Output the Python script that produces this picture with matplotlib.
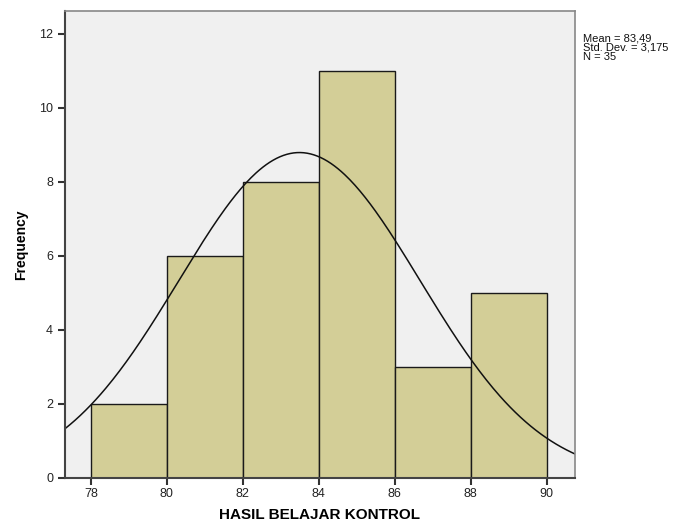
import numpy as np
import matplotlib.pyplot as plt

plt.rcParams['font.family'] = ['Liberation Sans', 'DejaVu Sans']

bin_edges = [78, 80, 82, 84, 86, 88, 90]
freq = [2, 6, 8, 11, 3, 5]
mean = 83.49
sd = 3.175
n = 35

fig = plt.figure(figsize=(6.89, 5.26), dpi=100)
ax = fig.add_axes([0.0943, 0.0913, 0.7402, 0.8877])
ax.set_facecolor('#f0f0f0')

ax.bar(bin_edges[:-1], freq, width=2, align='edge', color='#d3ce97',
       edgecolor='#1a1a1a', linewidth=1.0)

xs = np.linspace(77.32, 90.74, 300)
ys = n * 2 / (sd * np.sqrt(2 * np.pi)) * np.exp(-0.5 * ((xs - mean) / sd) ** 2)
ax.plot(xs, ys, color='#111111', linewidth=1.1)

ax.set_xlim(77.32, 90.74)
ax.set_ylim(0, 12.62)
ax.set_xticks(bin_edges)
ax.set_yticks([0, 2, 4, 6, 8, 10, 12])
ax.tick_params(axis='both', direction='out', length=5, width=1.5,
               color='#333333', labelsize=9, labelcolor='#222222')
ax.tick_params(axis='x', pad=2)
for side in ['left', 'bottom']:
    ax.spines[side].set_color('#444444')
    ax.spines[side].set_linewidth(1.5)
for side in ['top', 'right']:
    ax.spines[side].set_color('#888888')
    ax.spines[side].set_linewidth(1.2)

ax.set_xlabel('HASIL BELAJAR KONTROL', fontsize=11, fontweight='bold', labelpad=6)
ax.set_ylabel('Frequency', fontsize=10, fontweight='bold', labelpad=8)

fig.text(0.846, 0.937, 'Mean = 83,49\nStd. Dev. = 3,175\nN = 35', fontsize=8,
         va='top', ha='left', linespacing=0.95, color='#111111')

fig.savefig('out.png', dpi=100)
